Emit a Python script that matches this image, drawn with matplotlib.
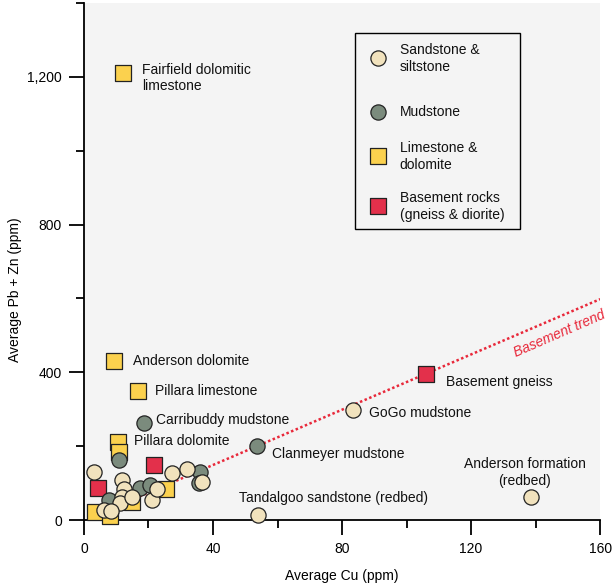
import matplotlib.pyplot as plt
from matplotlib.patches import Rectangle
from matplotlib.ticker import FuncFormatter, MultipleLocator

plt.rcParams['font.family'] = ['Liberation Sans', 'DejaVu Sans']

# values (Cu ppm, Pb+Zn ppm)
sand_cu = [3.0, 11.8, 12.3, 11.8, 11.3, 14.9, 6.1, 8.5, 21.1, 22.6, 27.2, 31.8, 36.5, 54, 83.4, 138.6]
sand_pbzn = [130, 108, 85, 63, 45, 63, 27, 25, 54, 85, 126, 139, 103, 13, 297, 62]
mud_cu = [10.9, 7.7, 17.5, 20.6, 36, 35.8, 18.6, 53.6]
mud_pbzn = [162, 54, 88, 94, 130, 99, 264, 200]
lime_cu = [12, 9.3, 16.7, 10.4, 10.9, 3.5, 8.2, 14.9, 25.4]
lime_pbzn = [1210, 431, 348, 211, 184, 22, 11, 49, 85]
base_cu = [4.5, 21.8, 106]
base_pbzn = [86, 148, 396]
trend_x = [1.5, 160]
trend_y = [5, 598]

labels = [
    ("Fairfield dolomitic\nlimestone", 18.0, 1197, 'left'),
    ("Anderson dolomite", 15.2, 431, 'left'),
    ("Pillara limestone", 22.0, 348, 'left'),
    ("Carribuddy mudstone", 22.3, 270, 'left'),
    ("Pillara dolomite", 15.5, 213, 'left'),
    ("Clanmeyer mudstone", 58.3, 178, 'left'),
    ("GoGo mudstone", 88.4, 289, 'left'),
    ("Basement gneiss", 112.2, 375, 'left'),
    ("Tandalgoo sandstone (redbed)", 77.4, 59, 'center'),
    ("Anderson formation\n(redbed)", 136.7, 129, 'center'),
]

c_sand = '#f1e2bd'
c_mud = '#7b8b7d'
c_lime = '#fbd14e'
c_base = '#e3304b'
c_edge = '#222222'
c_trend = '#e8283a'

fig = plt.figure(figsize=(6.13, 5.83), dpi=100)
ax = fig.add_axes([0.137, 0.108, 0.842, 0.887])
ax.set_facecolor('#f4f4f4')

ax.plot(trend_x, trend_y, color=c_trend, lw=1.8, linestyle=(0, (1, 1)), zorder=2)
ax.text(147.5, 503, "Basement trend", color=c_trend, style='italic', fontsize=10,
        rotation=23.5, ha='center', va='center', rotation_mode='anchor')

kw = dict(edgecolor=c_edge, linewidths=0.9, clip_on=False)
ax.scatter(lime_cu, lime_pbzn, s=135, marker='s', color=c_lime, zorder=3, **kw)
ax.scatter(base_cu, base_pbzn, s=135, marker='s', color=c_base, zorder=4, **kw)
ax.scatter(mud_cu, mud_pbzn, s=120, marker='o', color=c_mud, zorder=5, **kw)
ax.scatter(sand_cu, sand_pbzn, s=120, marker='o', color=c_sand, zorder=6, **kw)

for txt, x, y, ha in labels:
    ax.text(x, y, txt, fontsize=10, ha=ha, va='center', color='#111111',
            linespacing=1.25, multialignment='center' if ha == 'center' else 'left')

ax.set_xlim(0, 160)
ax.set_ylim(0, 1400)
ax.xaxis.set_major_locator(MultipleLocator(40))
ax.xaxis.set_minor_locator(MultipleLocator(20))
ax.yaxis.set_major_locator(MultipleLocator(400))
ax.yaxis.set_minor_locator(MultipleLocator(200))
ax.yaxis.set_major_formatter(FuncFormatter(lambda v, p: f"{int(v):,}"))
ax.tick_params(which='major', length=11, width=1.3, labelsize=10, pad=5)
ax.tick_params(which='minor', length=5.5, width=1.3)
for side in ['top', 'right']:
    ax.spines[side].set_visible(False)
for side in ['left', 'bottom']:
    ax.spines[side].set_linewidth(1.3)

ax.set_xlabel("Average Cu (ppm)", fontsize=10)
ax.set_ylabel("Average Pb + Zn (ppm)", fontsize=10)
ax.xaxis.set_label_coords(0.5, -0.094)
ax.yaxis.set_label_coords(-0.121, 0.445)

# legend box, laid out by hand to follow the uneven spacing of the original
leg_names = ["Sandstone &\nsiltstone", "Mudstone", "Limestone &\ndolomite",
             "Basement rocks\n(gneiss & diorite)"]
leg_colors = [c_sand, c_mud, c_lime, c_base]
leg_markers = ['o', 'o', 's', 's']
leg_y = [0.893, 0.790, 0.703, 0.607]
ax.add_patch(Rectangle((0.525, 0.563), 0.32, 0.379, transform=ax.transAxes,
                       facecolor='#f4f4f4', edgecolor='black', lw=1.0, zorder=7))
for name, col, mk, yy in zip(leg_names, leg_colors, leg_markers, leg_y):
    ax.scatter([0.570], [yy], s=135 if mk == 's' else 120, marker=mk, color=col,
               transform=ax.transAxes, zorder=8, **kw)
    ax.text(0.612, yy, name, transform=ax.transAxes, fontsize=10, ha='left',
            va='center', linespacing=1.25, color='#111111', zorder=8)

fig.savefig("out.png", dpi=100)
